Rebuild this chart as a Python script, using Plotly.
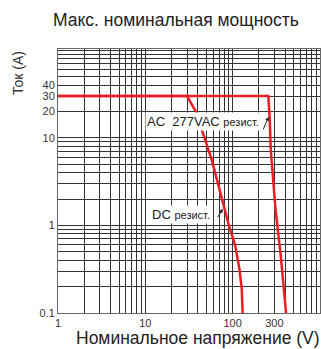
import plotly.graph_objects as go

# ---- data ----
dc_voltage = [1, 30, 37.8, 48, 57.6, 67.9, 75.4, 90.5, 106.5, 119.4, 127, 130]
dc_current = [30, 30, 20, 10, 5.6, 3, 2, 1, 0.6, 0.32, 0.19, 0.1]
ac_voltage = [1, 256, 265, 273, 310, 356, 409]
ac_current = [30, 30, 17.4, 7.3, 1.5, 0.44, 0.1]

x_grid = [1, 2, 3, 4, 5, 6, 7, 8, 9, 10, 20, 30, 40, 50, 60, 70, 80, 90,
          100, 200, 300, 400, 500, 600, 700, 800, 900, 1000]
x_labels = {1: "1", 10: "10", 100: "100", 300: "300"}
y_grid = [0.1, 0.2, 0.3, 0.4, 0.5, 0.6, 0.7, 0.8, 0.9, 1, 2, 3, 4, 5, 6, 7, 8, 9,
          10, 20, 30, 40, 50, 60, 70, 80, 90, 100]
y_labels = {0.1: "0.1", 1: "1", 10: "10", 20: "20", 30: "30", 40: "40"}

title_text = "Макс. номинальная мощность"
x_title = "Номинальное напряжение (V)"
y_title = "Ток (А)"

RED = "#ec1c24"
FONT = "Liberation Sans, Arial, sans-serif"

fig = go.Figure()
fig.add_trace(go.Scatter(x=ac_voltage, y=ac_current, mode="lines",
                         line=dict(color=RED, width=2.5), hoverinfo="skip"))
fig.add_trace(go.Scatter(x=dc_voltage, y=dc_current, mode="lines",
                         line=dict(color=RED, width=2.5), hoverinfo="skip"))

axis_common = dict(showline=True, linecolor="#666", linewidth=1, mirror=True,
                   showgrid=True, gridcolor="#333", gridwidth=1, ticks="",
                   zeroline=False, tickfont=dict(family=FONT, size=11, color="#333"))

fig.update_xaxes(type="log", range=[0, 3], tickmode="array", tickvals=x_grid,
                 ticktext=[x_labels.get(v, "") for v in x_grid], **axis_common)
fig.update_yaxes(type="log", range=[-1, 2.014], tickmode="array", tickvals=y_grid,
                 ticktext=[y_labels.get(v, "") for v in y_grid], **axis_common)

annotations = [
    dict(text=title_text, xref="paper", yref="paper", x=0.45, y=1.0, yshift=29,
         xanchor="center", yanchor="middle", showarrow=False,
         font=dict(family=FONT, size=17.5, color="#222")),
    dict(text=x_title, xref="paper", yref="paper", x=0.535, y=0, yshift=-25,
         xanchor="center", yanchor="middle", showarrow=False,
         font=dict(family=FONT, size=17.5, color="#222")),
    dict(text=y_title, xref="paper", yref="paper", x=0, xshift=-40, y=0.909,
         xanchor="center", yanchor="middle", textangle=-90, showarrow=False,
         font=dict(family=FONT, size=14, color="#333")),
    dict(text="AC  277VAC <span style='font-size:11px'>резист.</span>",
         x=2.325, y=1.186, xref="x", yref="y", xanchor="right", yanchor="middle",
         showarrow=False, bgcolor="white", borderpad=1,
         font=dict(family=FONT, size=13, color="#222")),
    dict(text="", x=2.412, y=1.24, xref="x", yref="y", showarrow=True,
         ax=-6, ay=14, arrowhead=2, arrowsize=0.8, arrowwidth=1, arrowcolor="#222"),
    dict(text="DC <span style='font-size:11px'>резист.</span>",
         x=1.764, y=0.12, xref="x", yref="y", xanchor="right", yanchor="middle",
         showarrow=False, bgcolor="white", borderpad=1,
         font=dict(family=FONT, size=13, color="#222")),
    dict(text="", x=1.887, y=0.19, xref="x", yref="y", showarrow=True,
         ax=-6, ay=10, arrowhead=2, arrowsize=0.8, arrowwidth=1, arrowcolor="#222"),
]

fig.update_layout(width=321, height=349, margin=dict(l=58, r=1, t=49, b=36),
                  paper_bgcolor="white", plot_bgcolor="white", showlegend=False,
                  annotations=annotations)

fig.write_html("out.html", config={"displayModeBar": False},
               post_script="document.body.style.margin='0';document.body.style.padding='0';")
